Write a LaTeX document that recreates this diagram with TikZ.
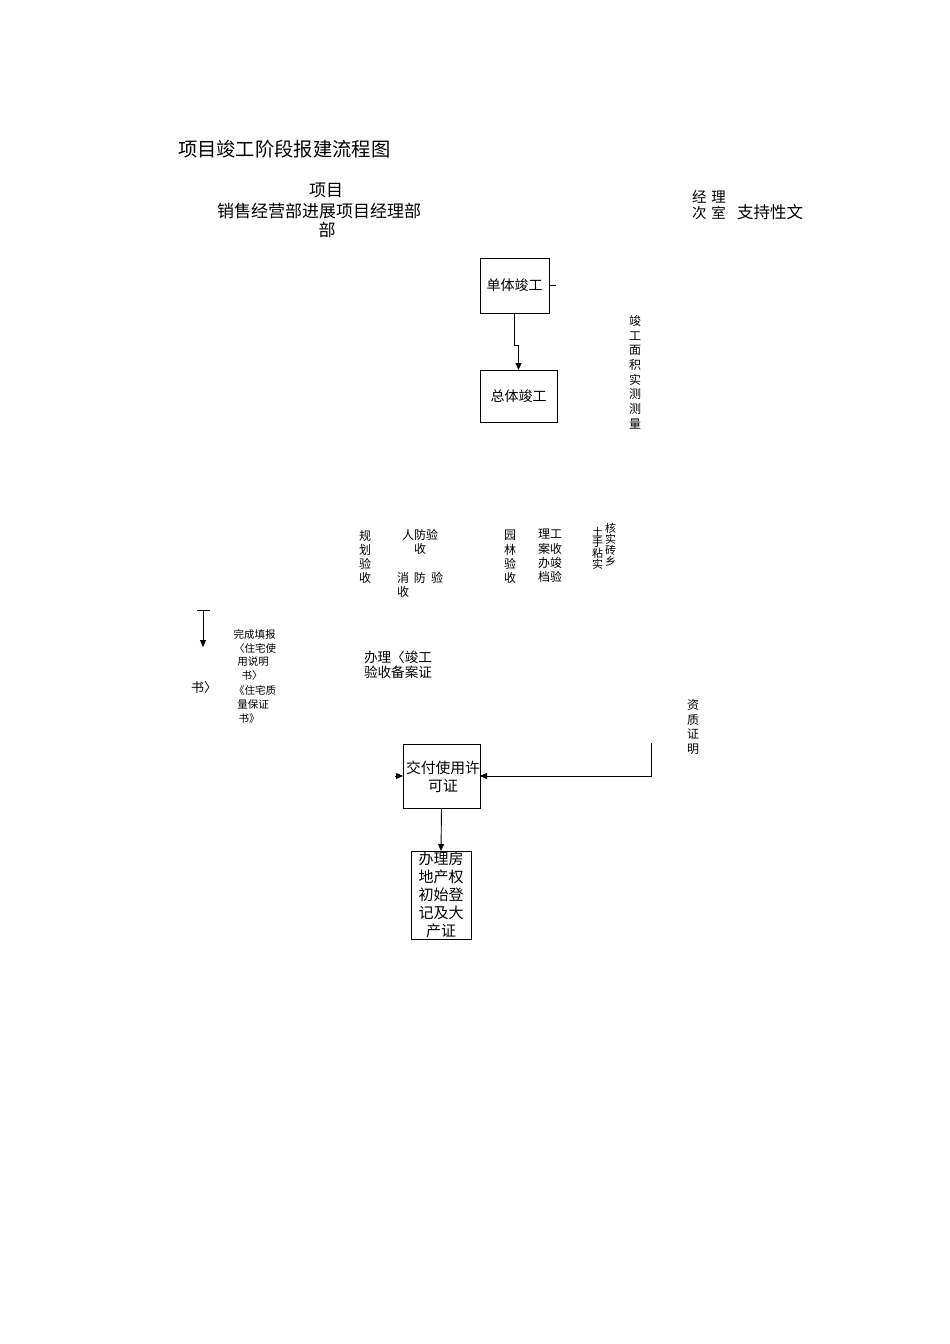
\documentclass[tikz,border=0pt]{standalone}
\usepackage{fontspec}
\newfontfamily\cjk{Noto Sans CJK SC}
\usetikzlibrary{arrows.meta}
\tikzset{
  txt/.style={inner sep=0pt, outer sep=0pt, font=\cjk, align=center},
  box/.style={draw, line width=1pt, inner sep=0pt, outer sep=0pt},
  arr/.style={line width=0.9pt, -{Triangle[length=7pt,width=6pt]}},
  ln/.style={line width=0.9pt}
}
\begin{document}
\begin{tikzpicture}[x=1pt,y=-1pt]
\useasboundingbox (0,0) rectangle (950,1344);
\fill[white] (0,0) rectangle (950,1344);
% title
\node[txt, anchor=west, font=\cjk\fontsize{19.3}{24}\selectfont] (title) at (178,149) {项目竣工阶段报建流程图};
% header
\node[txt, font=\cjk\fontsize{17}{20}\selectfont] (h1) at (326,190) {项目};
\node[txt, anchor=west, font=\cjk\fontsize{17}{20}\selectfont] (h2) at (217,211) {销售经营部进展项目经理部};
\node[txt, font=\cjk\fontsize{17}{20}\selectfont] (h3) at (327,230) {部};
\node[txt, anchor=west, font=\cjk\fontsize{14.5}{16}\selectfont] (r1) at (692,197) {经\hspace{5pt}理};
\node[txt, anchor=west, font=\cjk\fontsize{14.5}{16}\selectfont] (r2) at (692,213) {次\hspace{5pt}室};
\node[txt, anchor=west, font=\cjk\fontsize{16.5}{20}\selectfont] (r3) at (737,212) {支持性文};
% boxes
\node[box, minimum width=69pt, minimum height=55pt, font=\cjk\fontsize{14}{16}\selectfont] (dan) at (514.5,285.5) {单体竣工};
\node[box, minimum width=77pt, minimum height=52pt, font=\cjk\fontsize{14}{16}\selectfont] (zong) at (518.5,396) {总体竣工};
\draw[ln] (dan.east) -- ++(7,0);
\coordinate (j1) at (514.5,345);
\draw[arr] (dan.south) -- (j1) -| (zong.north);
% vertical label
\node[txt, font=\cjk\fontsize{12}{14.7}\selectfont] (cm) at (635,372) {竣\\工\\面\\积\\实\\测\\测\\量};
% acceptance row
\node[txt, font=\cjk\fontsize{12}{14.3}\selectfont] (gh) at (365,557) {规\\划\\验\\收};
\node[txt, font=\cjk\fontsize{12}{14}\selectfont] (rf1) at (420,535) {人防验};
\node[txt, font=\cjk\fontsize{12}{14}\selectfont] (rf2) at (420,549) {收};
\node[txt, font=\cjk\fontsize{12}{14}\selectfont] (xf1) at (420,578) {消\hspace{5pt}防\hspace{5pt}验};
\node[txt, font=\cjk\fontsize{12}{14}\selectfont] (xf2) at (403,592) {收};
\node[txt, font=\cjk\fontsize{12}{14.3}\selectfont] (yl) at (510,557) {园\\林\\验\\收};
\node[txt, font=\cjk\fontsize{12}{14.3}\selectfont] (da) at (550,556) {理工\\案收\\办竣\\档验};
\node[txt, font=\cjk\fontsize{11}{10.75}\selectfont] (tz) at (597.5,548) {土\\手\\粘\\实};
\node[txt, font=\cjk\fontsize{11}{9.6}\selectfont] (hs) at (610.5,545) {核\\实\\砖\\乡};
% left part
\coordinate (t1) at (197,610);
\coordinate (t2) at (210,610);
\coordinate (t3) at (203,610);
\coordinate (t4) at (203,647);
\draw[ln] (t1) -- (t2);
\draw[arr] (t3) -- (t4);
\node[txt, font=\cjk\fontsize{10.5}{12}\selectfont] (w1) at (254.5,634) {完成填报};
\node[txt, font=\cjk\fontsize{10.5}{12}\selectfont] (w2) at (255,648) {〈住宅使};
\node[txt, font=\cjk\fontsize{10.5}{12}\selectfont] (w3) at (253,662) {用说明};
\node[txt, font=\cjk\fontsize{10.5}{12}\selectfont] (w4) at (252,676) {书〉};
\node[txt, font=\cjk\fontsize{10.5}{12}\selectfont] (w5) at (255,690) {《住宅质};
\node[txt, font=\cjk\fontsize{10.5}{12}\selectfont] (w6) at (253,705) {量保证};
\node[txt, font=\cjk\fontsize{10.5}{12}\selectfont] (w7) at (249,719) {书》};
\node[txt, anchor=west, font=\cjk\fontsize{13}{15}\selectfont] (sh) at (191,688) {书〉};
\node[txt, anchor=west, font=\cjk\fontsize{13.6}{15}\selectfont] (ba1) at (364,657) {办理〈竣工};
\node[txt, anchor=west, font=\cjk\fontsize{13.6}{15}\selectfont] (ba2) at (364,672) {验收备案证};
% right label
\node[txt, font=\cjk\fontsize{12}{14.7}\selectfont] (zz) at (693,727) {资\\质\\证\\明};
% bottom boxes
\node[box, minimum width=77pt, minimum height=64pt] (jiao) at (441.5,776) {};
\node[txt, anchor=west, font=\cjk\fontsize{14.8}{17}\selectfont] (jt1) at (406,768) {交付使用许};
\node[txt, font=\cjk\fontsize{14.8}{17}\selectfont] (jt2) at (443,786) {可证};
\node[box, minimum width=60pt, minimum height=88pt, align=center, font=\cjk\fontsize{15}{18}\selectfont] (ban) at (441,895) {办理房\\地产权\\初始登\\记及大\\产证};
\coordinate (zs) at (651,743);
\draw[arr] (zs) |- (jiao.east);
\coordinate (jl) at (395,776);
\draw[arr] (jl) -- (jiao.west);
\draw[arr] (jiao.south) -- (ban.north);
\end{tikzpicture}
\end{document}
